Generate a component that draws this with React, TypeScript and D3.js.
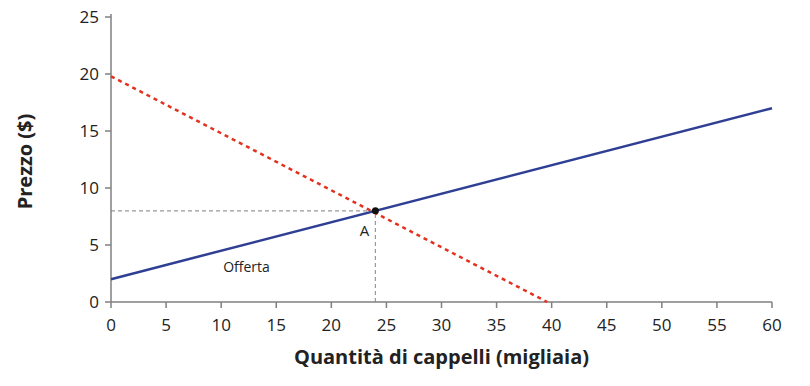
import * as d3 from 'd3';
import React from 'react';

// prezzi e quantità (migliaia di cappelli)
const xTicks = [0, 5, 10, 15, 20, 25, 30, 35, 40, 45, 50, 55, 60];
const yTicks = [0, 5, 10, 15, 20, 25];
const supplyQty = [0, 60];
const supplyPrice = [2, 17];
const demandQty = [0, 39.6];
const demandPrice = [19.8, 0];
const equilibrium = { q: 24, p: 8, label: 'A' };
const supplyLabel = { q: 12.3, p: 3.1, text: 'Offerta' };

const width = 810;
const height = 386;
const marginLeft = 111;
const marginRight = 38;
const marginTop = 17;
const marginBottom = 84;

const font = '"Open Sans", "DejaVu Sans", sans-serif';
const axisColor = '#808080';

const App = () => {
  const x = d3.scaleLinear().domain([0, 60]).range([marginLeft, width - marginRight]);
  const y = d3.scaleLinear().domain([0, 25]).range([height - marginBottom, marginTop]);

  const line = d3
    .line<[number, number]>()
    .x((d) => x(d[0]))
    .y((d) => y(d[1]));

  const supply = supplyQty.map((q, i) => [q, supplyPrice[i]] as [number, number]);
  const demand = demandQty.map((q, i) => [q, demandPrice[i]] as [number, number]);

  const y0 = y(0);
  const x0 = x(0);

  return (
    <svg width={width} height={height} style={{ display: 'block', position: 'absolute', left: 0, top: 0 }}>
      {/* linee tratteggiate verso gli assi */}
      <path
        d={line([[0, equilibrium.p], [equilibrium.q, equilibrium.p]])!}
        fill="none"
        stroke="#999"
        strokeWidth={1.2}
        strokeDasharray="4,3"
      />
      <path
        d={line([[equilibrium.q, 0], [equilibrium.q, equilibrium.p]])!}
        fill="none"
        stroke="#999"
        strokeWidth={1.2}
        strokeDasharray="4,3"
      />

      {/* assi */}
      <line x1={x0} x2={x(60)} y1={y0} y2={y0} stroke={axisColor} strokeWidth={1.5} />
      <line x1={x0} x2={x0} y1={y(25) - 3} y2={y0} stroke={axisColor} strokeWidth={1.5} />
      {xTicks.map((t) => (
        <g key={'x' + t}>
          <line x1={x(t)} x2={x(t)} y1={y0} y2={y0 + 6} stroke={axisColor} strokeWidth={1.5} />
          <text x={x(t)} y={y0 + 29} textAnchor="middle" fontFamily={font} fontSize={17} fill="#222">
            {t}
          </text>
        </g>
      ))}
      {yTicks.map((t) => (
        <g key={'y' + t}>
          <line x1={x0 - 6} x2={x0} y1={y(t)} y2={y(t)} stroke={axisColor} strokeWidth={1.5} />
          <text x={x0 - 12} y={y(t) + 6} textAnchor="end" fontFamily={font} fontSize={17} fill="#222">
            {t}
          </text>
        </g>
      ))}

      {/* domanda e offerta */}
      <path d={line(demand)!} fill="none" stroke="#e2321f" strokeWidth={2.5} strokeDasharray="4,4" />
      <path d={line(supply)!} fill="none" stroke="#2e3f94" strokeWidth={2.5} />

      <circle cx={x(equilibrium.q)} cy={y(equilibrium.p)} r={3.5} fill="#111" />
      <text
        x={x(equilibrium.q) - 11}
        y={y(equilibrium.p) + 25}
        textAnchor="middle"
        fontFamily={font}
        fontSize={15}
        fill="#222"
      >
        {equilibrium.label}
      </text>
      <text x={x(supplyLabel.q)} y={y(supplyLabel.p) + 5} textAnchor="middle" fontFamily={font} fontSize={14} fill="#222">
        {supplyLabel.text}
      </text>

      {/* titoli */}
      <text
        x={(x0 + x(60)) / 2}
        y={364}
        textAnchor="middle"
        fontFamily={font}
        fontSize={20}
        fontWeight="bold"
        fill="#222"
      >
        Quantità di cappelli (migliaia)
      </text>
      <text
        transform={`translate(32,${y(12.5) + 2}) rotate(-90)`}
        textAnchor="middle"
        fontFamily={font}
        fontSize={20}
        fontWeight="bold"
        fill="#222"
      >
        Prezzo ($)
      </text>
    </svg>
  );
};

export default App;
